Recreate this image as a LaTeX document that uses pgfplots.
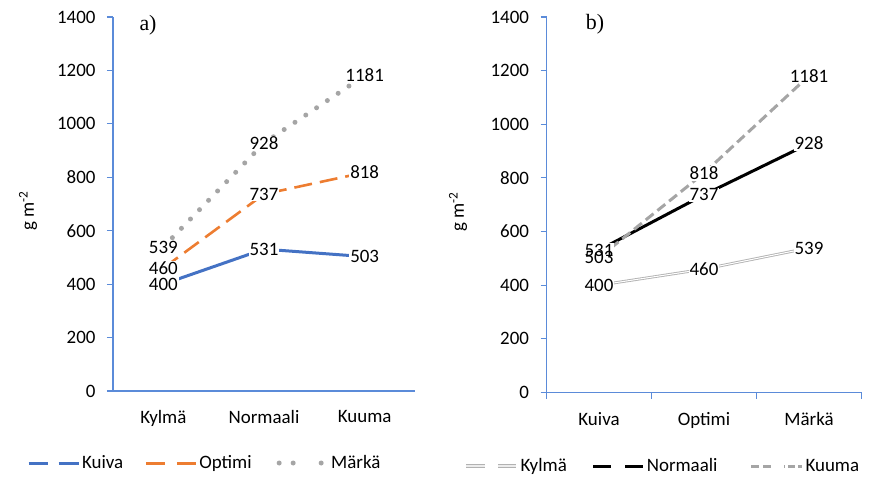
\documentclass[border=0pt]{standalone}
\usepackage{fontspec}
\setmainfont{Carlito}
\newfontfamily\timesf{Liberation Serif}
\usepackage{pgfplots}
\usepackage{pgfplotstable}
\pgfplotsset{compat=1.18}
\definecolor{axblue}{RGB}{91,139,217}
\definecolor{cblue}{RGB}{68,114,196}
\definecolor{corange}{RGB}{237,125,49}
\definecolor{cgray}{RGB}{165,165,165}

\pgfplotstableread{
x Kuiva Optimi Marka
0 400 460 539
1 531 737 928
2 503 818 1181
}\tA
\pgfplotstableread{
x Kylma Normaali Kuuma
0 400 531 503
1 460 737 818
2 539 928 1181
}\tB

\pgfplotsset{
 common/.style={
  scale only axis,
  xmin=-0.5, xmax=2.5, ymin=0, ymax=1400,
  ytick={0,200,...,1400},
  xtick={0,1,2},
  axis x line=bottom, axis y line=left,
  axis line style={-, draw=axblue, line width=1.1bp},
  tick align=outside,
  major tick length=6bp,
  minor tick length=6bp,
  ytick style={draw=axblue, line width=1.1bp},
  major x tick style={draw=none},
  tick label style={font=\fontsize{19}{22}\selectfont},
  yticklabel style={xshift=-8bp},
  xticklabel style={yshift=-10bp},
  /pgf/number format/assume math mode=true,
  /pgf/number format/1000 sep={},
  clip=false,
  legend columns=3,
  legend style={draw=none, fill=none, inner sep=0pt, font=\fontsize{19}{22}\selectfont},
  ylabel={g m\textsuperscript{-2}},
  ylabel style={font=\fontsize{19}{22}\selectfont, anchor=center},
 },
 lblbox/.style={nodes near coords, every node near coord/.append style={anchor=center, fill=white, inner sep=1bp, text opacity=0, font=\fontsize{19}{22}\selectfont}},
 lbltxt/.style={draw=none, forget plot, nodes near coords, every node near coord/.append style={anchor=center, inner sep=1bp, font=\fontsize{19}{22}\selectfont}},
}

\begin{document}
\begin{tikzpicture}
\path[use as bounding box] (0,0) rectangle (872bp,-493bp);

% ---------- panel a ----------
\begin{axis}[common,
  at={(113bp,-391bp)}, anchor=south west,
  width=302bp, height=374bp,
  xticklabels={Kylmä,Normaali,Kuuma},
  ylabel style={at={(axis description cs:-0.281,0.481)}},
  legend style={at={(axis description cs:-0.285,-0.1925)}, anchor=west,
    /tikz/column 2/.style={column sep=19bp},
    /tikz/column 4/.style={column sep=23bp}},
]
\addplot[cblue, line width=3bp, lblbox,
  legend image code/.code={\draw[cblue, line width=3bp] (0bp,0bp) -- (19bp,0bp) (30bp,0bp) -- (50bp,0bp);}]
  table[x=x, y=Kuiva] {\tA};
\addlegendentry{Kuiva}
\addplot[corange, line width=2.6bp, dash pattern=on 18bp off 8bp, lblbox,
  legend image code/.code={\draw[corange, solid, line width=3bp] (0bp,0bp) -- (19bp,0bp) (31bp,0bp) -- (50bp,0bp);}]
  table[x=x, y=Optimi] {\tA};
\addlegendentry{Optimi}
\addplot[cgray, line width=5bp, dash pattern=on 0bp off 13bp, line cap=round, lblbox,
  legend image code/.code={\fill[cgray, draw=none] (0bp,0bp) circle (2.5bp) (14bp,0bp) circle (2.5bp) (42bp,0bp) circle (2.5bp); \path[draw=none, fill=none] (0bp,0bp) -- (50bp,0bp);}]
  table[x=x, y=Marka] {\tA};
\addlegendentry{Märkä}
\addplot[lbltxt] table[x=x, y=Kuiva] {\tA};
\addplot[lbltxt] table[x=x, y=Optimi] {\tA};
\addplot[lbltxt] table[x=x, y=Marka] {\tA};
\node[font=\timesf\fontsize{22}{24}\selectfont] at (rel axis cs:0.116,0.979) {a)};
\end{axis}

% ---------- panel b ----------
\begin{axis}[common,
  at={(546.5bp,-392.5bp)}, anchor=south west,
  width=315bp, height=375.5bp,
  xticklabels={Kuiva,Optimi,Märkä},
  minor xtick={-0.5,0.5,1.5,2.5},
  minor x tick style={draw=axblue, line width=1.1bp},
  ylabel style={at={(axis description cs:-0.281,0.481)}},
  legend style={at={(axis description cs:-0.262,-0.196)}, anchor=west,
    /tikz/column 2/.style={column sep=23bp},
    /tikz/column 4/.style={column sep=30bp}},
]
\addplot[draw=cgray!85, double=white, double distance=1bp, line width=0.9bp, lblbox,
  legend image code/.code={\draw[cgray!85, double=white!85!gray, double distance=1.5bp, line width=1.5bp] (0bp,0bp) -- (19bp,0bp) (32bp,0bp) -- (50bp,0bp);}]
  table[x=x, y=Kylma] {\tB};
\addlegendentry{Kylmä}
\addplot[black, line width=3bp, lblbox,
  legend image code/.code={\draw[black, line width=3bp] (0bp,0bp) -- (18bp,0bp) (32bp,0bp) -- (50bp,0bp);}]
  table[x=x, y=Normaali] {\tB};
\addlegendentry{Normaali}
\addplot[cgray, line width=3bp, dash pattern=on 10bp off 5bp, lblbox,
  legend image code/.code={\draw[cgray, solid, line width=3bp] (0bp,0bp) -- (8bp,0bp) (12bp,0bp) -- (20bp,0bp) (33bp,0bp) -- (34bp,0bp) (37bp,0bp) -- (44bp,0bp) (47bp,0bp) -- (51bp,0bp);}]
  table[x=x, y=Kuuma] {\tB};
\addlegendentry{Kuuma}
\addplot[lbltxt] table[x=x, y=Kylma] {\tB};
\addplot[lbltxt] table[x=x, y=Normaali] {\tB};
\addplot[lbltxt] table[x=x, y=Kuuma] {\tB};
\node[font=\timesf\fontsize{22}{24}\selectfont] at (rel axis cs:0.154,0.981) {b)};
\end{axis}
\end{tikzpicture}
\end{document}
